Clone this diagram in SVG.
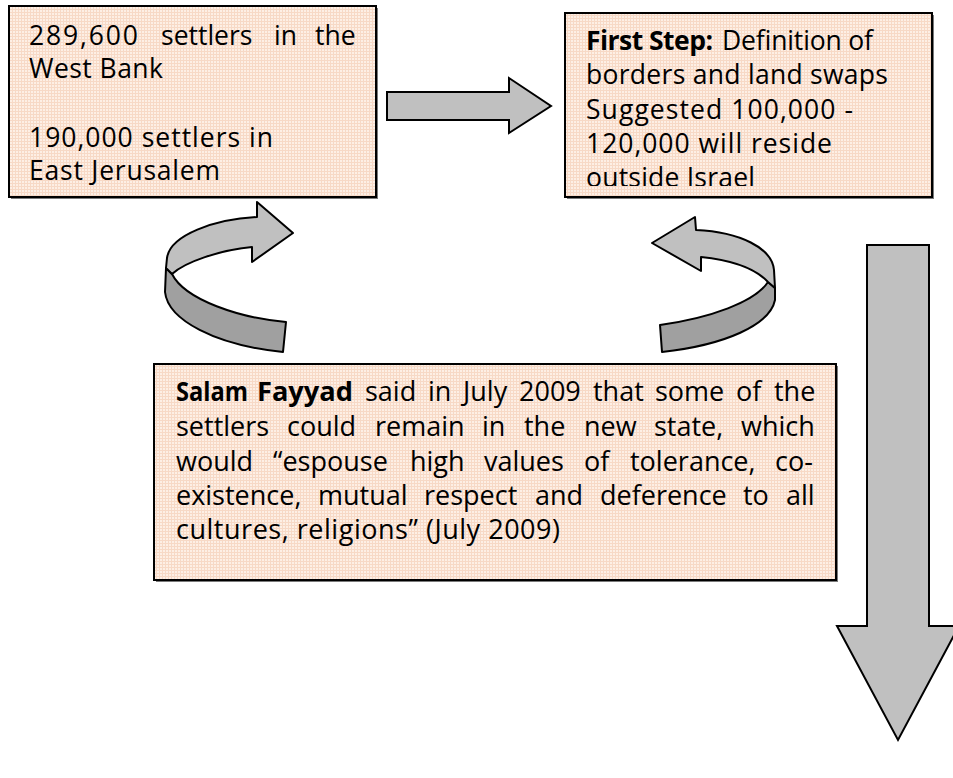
<svg xmlns="http://www.w3.org/2000/svg" width="953" height="778" viewBox="0 0 953 778">
<defs>
<pattern id="tex" width="3" height="3" patternUnits="userSpaceOnUse">
<rect width="3" height="3" fill="#fdefe5"/>
<path d="M0 0.5H3M0.5 0V3" stroke="#f7d9c6" stroke-width="1"/>
</pattern>
<clipPath id="clip2"><rect x="565" y="13" width="367" height="173"/></clipPath>
<style>
.box{fill:url(#tex);stroke:#000;stroke-width:2}
.shadow{fill:#7a7a7a}
.t{font-family:"Open Sans","Liberation Sans",sans-serif;font-size:26.5px;fill:#000}
.t3{font-family:"Open Sans","Liberation Sans",sans-serif;font-size:27px;fill:#000}
.b{font-weight:bold}
.arr{fill:#c0c0c0;stroke:#000;stroke-width:2;stroke-linejoin:miter}
.dark{fill:#a0a0a0;stroke:#000;stroke-width:2;stroke-linejoin:round}
.light{fill:#c0c0c0;stroke:#000;stroke-width:2;stroke-linejoin:round}
</style>
</defs>
<rect width="953" height="778" fill="#fff"/>

<g id="connectors">
<path class="arr" d="M387,92 H509 V78 L551,106 L509,133 V120 H387 Z"/>
<path class="arr" d="M867,245 H929 V626 H959 L898,740 L837,626 H867 Z"/>
<g id="curved-left">
<path class="dark" d="M166,268 L172,274 C185,300 240,318 286,322 L283,352 C215,345 168,320 165,292 Z"/>
<path class="light" d="M257,217 C215,219 170,235 167,258 L166,268 L172,274 C185,262 220,250 252,247 L252,262 L293,233 L257,202 Z"/>
</g>
<g id="curved-right">
<path class="dark" d="M768,282 L775,288 L775,300 C770,325 725,345 662,352 L660,325 C710,318 755,302 768,282 Z"/>
<path class="light" d="M696,230 C740,232 772,248 774,270 L775,288 L768,282 C755,268 730,260 701,257 L701,271 L652,243 L695,217 Z"/>
</g>
</g>

<g id="node-settlers">
<rect class="shadow" x="11" y="8" width="367" height="191"/>
<rect class="box" x="9" y="6" width="367" height="191"/>
<text class="t" y="45"><tspan x="29" textLength="109">289,600</tspan><tspan x="161">settlers</tspan><tspan x="274">in</tspan><tspan x="315">the</tspan></text>
<text class="t" x="29" y="78" textLength="134">West Bank</text>
<text class="t" x="29" y="147" textLength="244">190,000 settlers in</text>
<text class="t" x="29" y="180" textLength="191">East Jerusalem</text>
</g>

<g id="node-first-step">
<rect class="shadow" x="567" y="15" width="367" height="184"/>
<rect class="box" x="565" y="13" width="367" height="184"/>
<g clip-path="url(#clip2)">
<text class="t" y="50"><tspan x="586" class="b" textLength="127">First Step:</tspan><tspan x="722" textLength="151">Definition of</tspan></text>
<text class="t" x="586" y="84" textLength="302">borders and land swaps</text>
<text class="t" x="586" y="119" textLength="267">Suggested 100,000 -</text>
<text class="t" x="586" y="153" textLength="246">120,000 will reside</text>
<text class="t" x="586" y="187" textLength="169">outside Israel</text>
</g>
</g>

<g id="node-fayyad">
<rect class="shadow" x="156" y="366" width="682" height="216"/>
<rect class="box" x="154" y="364" width="682" height="216"/>
<text class="t3" y="401"><tspan x="176" class="b" textLength="72" lengthAdjust="spacingAndGlyphs">Salam</tspan><tspan x="257" class="b" textLength="96" lengthAdjust="spacingAndGlyphs">Fayyad</tspan><tspan x="365">said</tspan><tspan x="428">in</tspan><tspan x="463">July</tspan><tspan x="519">2009</tspan><tspan x="593">that</tspan><tspan x="655">some</tspan><tspan x="736">of</tspan><tspan x="774">the</tspan></text>
<text class="t3" y="436"><tspan x="176">settlers</tspan><tspan x="287">could</tspan><tspan x="375">remain</tspan><tspan x="482">in</tspan><tspan x="524">the</tspan><tspan x="584">new</tspan><tspan x="654">state,</tspan><tspan x="741">which</tspan></text>
<text class="t3" y="471"><tspan x="176">would</tspan><tspan x="273">“espouse</tspan><tspan x="410">high</tspan><tspan x="484">values</tspan><tspan x="584">of</tspan><tspan x="630">tolerance,</tspan><tspan x="775">co-</tspan></text>
<text class="t3" y="505"><tspan x="176">existence,</tspan><tspan x="318">mutual</tspan><tspan x="424">respect</tspan><tspan x="535">and</tspan><tspan x="600">deference</tspan><tspan x="743">to</tspan><tspan x="786">all</tspan></text>
<text class="t3" x="176" y="539" textLength="384">cultures, religions” (July 2009)</text>
</g>
</svg>
